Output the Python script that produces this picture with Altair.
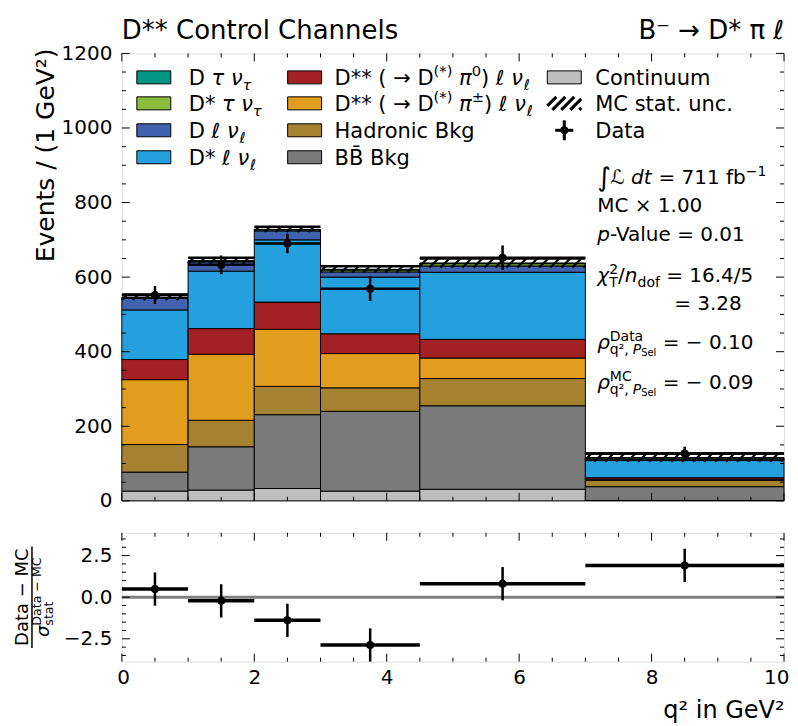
import math
import altair as alt
import pandas as pd

# ---------------- data ----------------
bin_lo = [0.0, 1.0, 2.0, 3.0, 4.5, 7.0]
bin_hi = [1.0, 2.0, 3.0, 4.5, 7.0, 10.0]
data_x = [0.5, 1.5, 2.5, 3.75, 5.75, 8.5]

continuum   = [26, 29, 33, 26, 31, 1]
bb_bkg      = [51, 116, 198, 214, 224, 37]
hadronic    = [74, 71, 76, 63, 73, 17]
dss_pipm    = [174, 177, 153, 92, 55, 3]
dss_pi0     = [54, 69, 73, 53, 50, 4]
dstar_lnu   = [133, 154, 167, 152, 180, 46]
d_lnu       = [31, 25, 24, 14, 17, 4]
dstar_taunu = [2, 2, 3, 5, 6, 3]
d_taunu     = [1, 1, 1, 2, 2, 1]
mc_unc      = [7.5, 8, 7, 8, 12, 11]

data_y   = [552, 633, 690, 569, 652, 127]
data_err = [24, 25, 26, 33, 33, 18]

pull     = [0.49, -0.22, -1.39, -2.87, 0.81, 1.91]
pull_err = [1, 1, 1, 1, 1, 1]

comp_keys = ["cont", "bb", "had", "pipm", "pi0", "dslnu", "dlnu", "dstaunu", "dtaunu"]
comp_colors = ["#bebebe", "#7a7a7a", "#a58230", "#e19d1e", "#a12124",
               "#24a0de", "#4162ad", "#8cbe3c", "#009682"]
comp_values = [continuum, bb_bkg, hadronic, dss_pipm, dss_pi0,
               dstar_lnu, d_lnu, dstar_taunu, d_taunu]

x_major = [0, 2, 4, 6, 8, 10]
x_minor = [0.5, 1, 1.5, 2.5, 3, 3.5, 4.5, 5, 5.5, 6.5, 7, 7.5, 8.5, 9, 9.5]
y_major = [0, 200, 400, 600, 800, 1000, 1200]
y_minor = [v for v in range(50, 1200, 50) if v % 200 != 0]
r_major = [-2.5, 0.0, 2.5]
r_minor = [-3.5, -3, -2, -1.5, -1, -0.5, 0.5, 1, 1.5, 2, 3, 3.5]

# ---------------- layout constants ----------------
FONT = "DejaVu Sans"
W, H, H2 = 663, 448, 129
XDOM = [0, 10]
YDOM = [0, 1200]
RDOM = [-3.87, 3.87]

# approximate DejaVu Sans advance widths (em)
WID = {" ": .318, "(": .39, ")": .39, "*": .5, "+": .838, ",": .318, "-": .361, ".": .318,
       "/": .337, "=": .838, "A": .684, "B": .686, "C": .698, "D": .77, "E": .632, "G": .775,
       "H": .752, "M": .863, "P": .603, "S": .635, "T": .611, "V": .684, "a": .613, "b": .635,
       "c": .55, "d": .635, "e": .615, "f": .352, "g": .635, "h": .634, "i": .278, "k": .579,
       "l": .278, "m": .974, "n": .634, "o": .612, "p": .635, "r": .411, "s": .521, "t": .392,
       "u": .634, "v": .592, "x": .592, "τ": .56, "ν": .59, "ℓ": .42, "π": .6, "χ": .6,
       "ρ": .63, "σ": .63, "→": .838, "±": .838, "−": .838, "×": .838, "∫": .5, "ℒ": .75,
       "\u0304": 0.0, "²": .4, "⁻": .45}
for d in "0123456789":
    WID[d] = .636


def tw(s):
    return sum(WID.get(c, 0.6) for c in s)


KIND = {"n": (1.0, 0.0, False), "i": (1.0, 0.0, True),
        "sup": (0.7, -0.42, False), "supi": (0.7, -0.42, True),
        "sub": (0.7, 0.24, False), "subi": (0.7, 0.24, True),
        "ss": (0.5, 0.36, False), "big": (1.3, 0.1, False)}


def place(items, x, size):
    out = []
    for it in items:
        if it[0] == "stack":
            r1, x1 = place(it[1], x, size)
            r2, x2 = place(it[2], x, size)
            out += r1 + r2
            x = max(x1, x2)
        else:
            t, k = it
            rs, dy, ital = KIND[k]
            fs = size * rs
            lead = len(t) - len(t.lstrip(" "))
            if t.strip():
                out.append(dict(a=x + lead * WID[" "] * fs, v=dy * size, t=t.strip(), fs=fs, it=ital))
            x += tw(t) * fs
    return out, x


def rich(items, x0, y0, size):
    rows, _ = place(items, 0.0, size)
    return [dict(px=x0 + r["a"], py=y0 + r["v"], t=r["t"], fs=r["fs"], it=r["it"]) for r in rows]


def rich_rot(items, cx, cy, size, center=True):
    rows, wtot = place(items, 0.0, size)
    off = -wtot / 2 if center else 0.0
    return [dict(px=cx + r["v"], py=cy - (r["a"] + off), t=r["t"], fs=r["fs"], it=r["it"]) for r in rows], wtot


def text_layers(rows, angle=0):
    layers = []
    for ital in (False, True):
        sub = [r for r in rows if r["it"] == ital]
        if not sub:
            continue
        df = pd.DataFrame(sub)
        layers.append(alt.Chart(df).mark_text(
            align="left", baseline="alphabetic", angle=angle, font=FONT,
            fontStyle="italic" if ital else "normal", color="black").encode(
            x=alt.X("px:Q", scale=None, axis=None),
            y=alt.Y("py:Q", scale=None, axis=None),
            text="t:N",
            size=alt.Size("fs:Q", scale=None, legend=None)))
    return layers


# ---------------- encodings ----------------
def XM(f):
    return alt.X(f"{f}:Q", scale=alt.Scale(domain=XDOM, nice=False, zero=False), axis=None)


YAXIS = alt.Axis(values=y_major, format="d", labelFontSize=20, labelFont=FONT, labelColor="black",
                 ticks=False, domain=False, grid=False, labelPadding=10, title=None,
                 labelFlush=False, labelOverlap=False)


def YM(f):
    return alt.Y(f"{f}:Q", scale=alt.Scale(domain=YDOM, nice=False, zero=False), axis=YAXIS)


XAXIS_R = alt.Axis(values=x_major, format="d", labelFontSize=20, labelFont=FONT, labelColor="black",
                   ticks=False, domain=False, grid=False, labelPadding=6,
                   labelFlush=True, labelFlushOffset=5, labelOverlap=False,
                   title="q² in GeV²", titleFontSize=24, titleFont=FONT, titleFontWeight="normal",
                   titleColor="black", titleAnchor="end", titlePadding=11)


def XR(f):
    return alt.X(f"{f}:Q", scale=alt.Scale(domain=XDOM, nice=False, zero=False), axis=XAXIS_R)


RAXIS = alt.Axis(values=r_major, format=".1f", labelFontSize=20, labelFont=FONT, labelColor="black",
                 ticks=False, domain=False, grid=False, labelPadding=10, title=None,
                 labelFlush=False, labelOverlap=False)


def YR(f):
    return alt.Y(f"{f}:Q", scale=alt.Scale(domain=RDOM, nice=False, zero=False), axis=RAXIS)


def tick_layers(xe, ye, w, h, xmaj, xmin, ymaj, ymin, lmaj=8, lmin=4):
    layers = []
    for vals, L in ((xmaj, lmaj), (xmin, lmin)):
        df = pd.DataFrame({"t": vals})
        b = alt.Chart(df).mark_rule(color="black", strokeWidth=1)
        layers.append(b.encode(x=xe("t"), y=alt.value(h), y2=alt.value(h - L)))
        layers.append(b.encode(x=xe("t"), y=alt.value(0), y2=alt.value(L)))
    for vals, L in ((ymaj, lmaj), (ymin, lmin)):
        df = pd.DataFrame({"t": vals})
        b = alt.Chart(df).mark_rule(color="black", strokeWidth=1)
        layers.append(b.encode(y=ye("t"), x=alt.value(0), x2=alt.value(L)))
        layers.append(b.encode(y=ye("t"), x=alt.value(w), x2=alt.value(w - L)))
    return layers


# ---------------- main panel ----------------
stack_rows = []
totals = []
for i in range(len(bin_lo)):
    cum = 0.0
    for k, key in enumerate(comp_keys):
        v = comp_values[k][i]
        stack_rows.append(dict(lo=bin_lo[i], hi=bin_hi[i], b=cum, t=cum + v, comp=key))
        cum += v
    totals.append(cum)
stack_df = pd.DataFrame(stack_rows)

stack = alt.Chart(stack_df).mark_rect(stroke="black", strokeWidth=1).encode(
    x=XM("lo"), x2="hi", y=YM("b"), y2="t",
    color=alt.Color("comp:N", scale=alt.Scale(domain=comp_keys, range=comp_colors), legend=None))

# hatched MC stat. uncertainty band
PXX = W / (XDOM[1] - XDOM[0])
PXY = H / (YDOM[1] - YDOM[0])
SP = 11.0 / PXX
hatch_rows, band_rows = [], []
for i in range(len(bin_lo)):
    lo_y, hi_y = totals[i] - mc_unc[i], totals[i] + mc_unc[i]
    band_rows.append(dict(lo=bin_lo[i], hi=bin_hi[i], b=lo_y, t=hi_y))
    dx = (hi_y - lo_y) * PXY / PXX
    xs = math.floor((bin_lo[i] - dx) / SP) * SP
    while xs < bin_hi[i]:
        t0 = max(0.0, (bin_lo[i] - xs) / dx)
        t1 = min(1.0, (bin_hi[i] - xs) / dx)
        if t1 > t0:
            hatch_rows.append(dict(hx=xs + t0 * dx, hx2=xs + t1 * dx,
                                   hy=lo_y + t0 * (hi_y - lo_y), hy2=lo_y + t1 * (hi_y - lo_y)))
        xs += SP
hatch = alt.Chart(pd.DataFrame(hatch_rows)).mark_rule(color="black", strokeWidth=2.2).encode(
    x=XM("hx"), x2="hx2", y=YM("hy"), y2="hy2")
band_df = pd.DataFrame(band_rows)
band_top = alt.Chart(band_df).mark_rule(color="black", strokeWidth=2.5).encode(
    x=XM("lo"), x2="hi", y=YM("t"))

dat_df = pd.DataFrame(dict(x=data_x, lo=bin_lo, hi=bin_hi, y=data_y,
                           e1=[a - b for a, b in zip(data_y, data_err)],
                           e2=[a + b for a, b in zip(data_y, data_err)]))
dat_v = alt.Chart(dat_df).mark_rule(color="black", strokeWidth=2.5).encode(x=XM("x"), y=YM("e1"), y2="e2")
dat_h = alt.Chart(dat_df).mark_rule(color="black", strokeWidth=2.5).encode(x=XM("lo"), x2="hi", y=YM("y"))
dat_p = alt.Chart(dat_df).mark_circle(color="black", size=64, opacity=1).encode(x=XM("x"), y=YM("y"))

# legend (drawn inside the frame)
row_c = [24, 50, 77, 104]
SW = 34
SH = 13
col_sw = [15, 166, 426]
col_tx = [67, 213, 474]
leg_sw = []
for r in range(4):
    leg_sw.append(dict(x1=col_sw[0], x2=col_sw[0] + SW, y1=row_c[r] - SH / 2, y2=row_c[r] + SH / 2,
                       c=comp_colors[8 - r]))
for r, ci in enumerate([4, 3, 2, 1]):
    leg_sw.append(dict(x1=col_sw[1], x2=col_sw[1] + SW, y1=row_c[r] - SH / 2, y2=row_c[r] + SH / 2,
                       c=comp_colors[ci]))
leg_sw.append(dict(x1=col_sw[2], x2=col_sw[2] + SW, y1=row_c[0] - SH / 2, y2=row_c[0] + SH / 2,
                   c=comp_colors[0]))
leg_rect = alt.Chart(pd.DataFrame(leg_sw)).mark_rect(stroke="black", strokeWidth=1).encode(
    x=alt.X("x1:Q", scale=None, axis=None), x2="x2", y=alt.Y("y1:Q", scale=None, axis=None), y2="y2",
    color=alt.Color("c:N", scale=None, legend=None))

# legend hatch swatch
lh = []
hx0, hx1 = col_sw[2], col_sw[2] + SW
hy0, hy1 = row_c[1] + SH / 2, row_c[1] - SH / 2
hh = hy0 - hy1
xs = hx0 - hh
while xs < hx1:
    t0 = max(0.0, (hx0 - xs) / hh)
    t1 = min(1.0, (hx1 - xs) / hh)
    if t1 > t0:
        lh.append(dict(a=xs + t0 * hh, a2=xs + t1 * hh, b=hy0 - t0 * hh, b2=hy0 - t1 * hh))
    xs += 9
leg_hatch = alt.Chart(pd.DataFrame(lh)).mark_rule(color="black", strokeWidth=3).encode(
    x=alt.X("a:Q", scale=None, axis=None), x2="a2", y=alt.Y("b:Q", scale=None, axis=None), y2="b2")

# legend data marker
mk = pd.DataFrame(dict(cx=[col_sw[2] + SW / 2], cy=[row_c[2]], xa=[col_sw[2] + SW / 2 - 9],
                       xb=[col_sw[2] + SW / 2 + 9], ya=[row_c[2] - 10], yb=[row_c[2] + 10]))
mk_h = alt.Chart(mk).mark_rule(color="black", strokeWidth=3).encode(
    x=alt.X("xa:Q", scale=None, axis=None), x2="xb", y=alt.Y("cy:Q", scale=None, axis=None))
mk_v = alt.Chart(mk).mark_rule(color="black", strokeWidth=3).encode(
    x=alt.X("cx:Q", scale=None, axis=None), y=alt.Y("ya:Q", scale=None, axis=None), y2="yb")
mk_p = alt.Chart(mk).mark_circle(color="black", size=64, opacity=1).encode(
    x=alt.X("cx:Q", scale=None, axis=None), y=alt.Y("cy:Q", scale=None, axis=None))

LF = 21
rows = []
bl = [r + 7.5 for r in row_c]
rows += rich([("D ", "n"), ("τ ν", "i"), ("τ", "subi")], col_tx[0], bl[0], LF)
rows += rich([("D* ", "n"), ("τ ν", "i"), ("τ", "subi")], col_tx[0], bl[1], LF)
rows += rich([("D ", "n"), ("ℓ ν", "i"), ("ℓ", "subi")], col_tx[0], bl[2], LF)
rows += rich([("D* ", "n"), ("ℓ ν", "i"), ("ℓ", "subi")], col_tx[0], bl[3], LF)
rows += rich([("D** ( → D", "n"), ("(*)", "sup"), (" ", "n"), ("π", "i"), ("0", "sup"), (") ", "n"),
              ("ℓ ν", "i"), ("ℓ", "subi")], col_tx[1], bl[0], LF)
rows += rich([("D** ( → D", "n"), ("(*)", "sup"), (" ", "n"), ("π", "i"), ("±", "sup"), (") ", "n"),
              ("ℓ ν", "i"), ("ℓ", "subi")], col_tx[1], bl[1], LF)
rows += rich([("Hadronic Bkg", "n")], col_tx[1], bl[2], LF)
rows += rich([("BB\u0304 Bkg", "n")], col_tx[1], bl[3], LF)
rows += rich([("Continuum", "n")], col_tx[2], bl[0], LF)
rows += rich([("MC stat. unc.", "n")], col_tx[2], bl[1], LF)
rows += rich([("Data", "n")], col_tx[2], bl[2], LF)

# annotations on the right
AF = 20
AX = 476
rows += rich([("∫", "big"), ("ℒ dt", "i"), (" = 711 fb", "n"), ("−1", "sup")], AX, 131, AF)
rows += rich([("MC × 1.00", "n")], AX, 159, AF)
rows += rich([("p", "i"), ("-Value = 0.01", "n")], AX, 188, AF)
rows += rich([("χ", "i"), ("stack", [("2", "sup")], [("T", "sub")]), ("/", "n"), ("n", "i"),
              ("dof", "sub"), (" = 16.4/5", "n")], AX, 229, AF)
rows += rich([("= 3.28", "n")], 553, 257, AF)
rows += rich([("ρ", "i"), ("stack", [("Data", "sup")], [("q², ", "sub"), ("P", "subi"), ("Sel", "ss")]),
              (" = − 0.10", "n")], AX, 296, AF)
rows += rich([("ρ", "i"), ("stack", [("MC", "sup")], [("q², ", "sub"), ("P", "subi"), ("Sel", "ss")]),
              (" = − 0.09", "n")], AX, 336, AF)

main_text = text_layers(rows)

# titles
ttl = pd.DataFrame(dict(px=[0, W], py=[-14, -14], t=["D**  Control Channels", "B⁻ → D* π ℓ"]))
title_l = alt.Chart(ttl.iloc[[0]]).mark_text(align="left", baseline="alphabetic", fontSize=26, font=FONT,
                                             color="black").encode(
    x=alt.X("px:Q", scale=None, axis=None), y=alt.Y("py:Q", scale=None, axis=None), text="t:N")
title_r = alt.Chart(ttl.iloc[[1]]).mark_text(align="right", baseline="alphabetic", fontSize=26, font=FONT,
                                             color="black").encode(
    x=alt.X("px:Q", scale=None, axis=None), y=alt.Y("py:Q", scale=None, axis=None), text="t:N")
ytitle = alt.Chart(pd.DataFrame(dict(px=[-68], py=[-5], t=["Events / (1 GeV²)"]))).mark_text(
    align="right", baseline="alphabetic", angle=270, fontSize=25, font=FONT, color="black").encode(
    x=alt.X("px:Q", scale=None, axis=None), y=alt.Y("py:Q", scale=None, axis=None), text="t:N")

main = alt.layer(
    stack, hatch, band_top, dat_h, dat_v, dat_p,
    *tick_layers(XM, YM, W, H, x_major, x_minor, y_major, y_minor),
    leg_rect, leg_hatch, mk_h, mk_v, mk_p, *main_text, title_l, title_r, ytitle
).properties(width=W, height=H)

# ---------------- ratio panel ----------------
pull_df = pd.DataFrame(dict(x=data_x, lo=bin_lo, hi=bin_hi, y=pull,
                            e1=[a - b for a, b in zip(pull, pull_err)],
                            e2=[a + b for a, b in zip(pull, pull_err)]))
zero = alt.Chart(pd.DataFrame(dict(z=[0.0], a=[XDOM[0]], b=[XDOM[1]]))).mark_rule(
    color="#7f7f7f", strokeWidth=3).encode(x=XR("a"), x2="b", y=YR("z"))
p_h = alt.Chart(pull_df).mark_rule(color="black", strokeWidth=3.5).encode(x=XR("lo"), x2="hi", y=YR("y"))
p_v = alt.Chart(pull_df).mark_rule(color="black", strokeWidth=2.5).encode(x=XR("x"), y=YR("e1"), y2="e2")
p_p = alt.Chart(pull_df).mark_circle(color="black", size=64, opacity=1).encode(x=XR("x"), y=YR("y"))

# fraction axis title (rotated)
CX, CY, RF = -90, H2 / 2, 18
num_rows, wn = rich_rot([("Data − MC", "n")], CX - 4, CY, RF)
den_rows, wd = rich_rot([("σ", "i"), ("stack", [("Data − MC", "sup")], [("stat", "sub")])], CX + 17, CY, RF)
frac_len = max(wn, wd) + 4
frac = alt.Chart(pd.DataFrame(dict(x=[CX], y1=[CY - frac_len / 2], y2=[CY + frac_len / 2]))).mark_rule(
    color="black", strokeWidth=1.5).encode(
    x=alt.X("x:Q", scale=None, axis=None), y=alt.Y("y1:Q", scale=None, axis=None), y2="y2")
ratio_text = text_layers(num_rows + den_rows, angle=270)

ratio = alt.layer(
    zero, p_h, p_v, p_p,
    *tick_layers(XR, YR, W, H2, x_major, x_minor, r_major, r_minor),
    frac, *ratio_text
).properties(width=W, height=H2)

chart = alt.vconcat(main, ratio, spacing=20).resolve_scale(
    x="independent", y="independent", color="independent", size="independent"
).properties(padding={"left": 5, "top": 9, "right": 0, "bottom": 5}).configure_view(
    stroke="black", strokeWidth=1.5
).configure(background="white")

chart.save("out.html", embed_options={"renderer": "svg", "actions": False})
